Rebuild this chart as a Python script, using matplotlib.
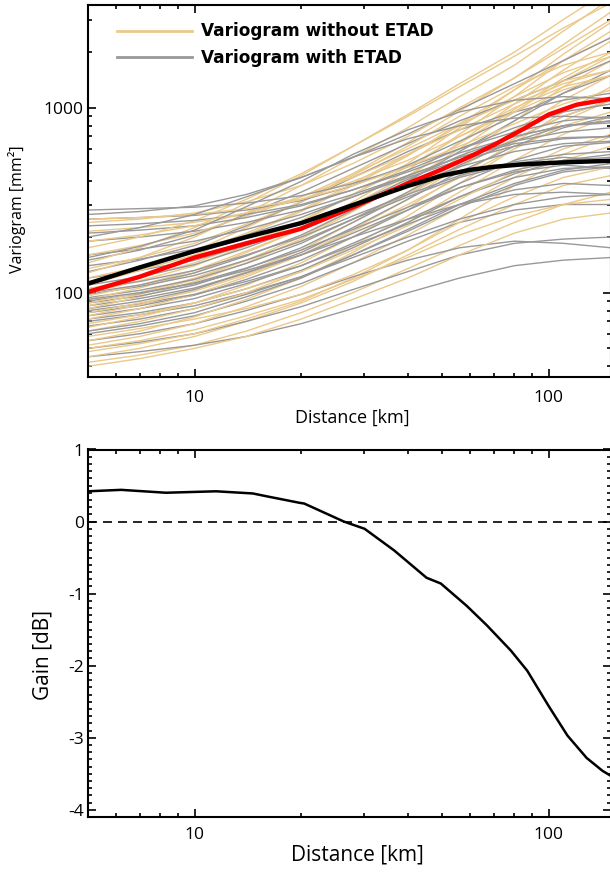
import matplotlib
matplotlib.use("Agg")
import matplotlib.pyplot as plt
from matplotlib.ticker import LogLocator, MultipleLocator, NullFormatter, FixedLocator, FixedFormatter

plt.rcParams["font.family"] = ["Open Sans", "DejaVu Sans"]
plt.rcParams["axes.unicode_minus"] = False

# distances (km) at which every variogram is sampled
dist_km = [5, 7, 10, 14, 20, 28, 40, 56, 80, 110, 150]

# individual variograms without the ETAD correction (mm^2)
vario_without = [
    [42, 46, 52, 62, 78, 100, 135, 180, 240, 300, 350],
    [45, 50, 58, 70, 88, 115, 160, 220, 300, 380, 430],
    [48, 53, 60, 72, 90, 120, 170, 250, 380, 520, 620],
    [52, 58, 68, 84, 108, 145, 205, 290, 420, 560, 700],
    [55, 62, 74, 92, 120, 165, 240, 350, 520, 720, 900],
    [58, 64, 72, 82, 98, 125, 170, 240, 330, 420, 480],
    [62, 70, 82, 100, 130, 180, 260, 390, 600, 850, 1100],
    [65, 74, 88, 110, 145, 200, 290, 430, 650, 950, 1300],
    [68, 76, 88, 105, 130, 170, 230, 320, 450, 600, 720],
    [72, 82, 98, 122, 160, 220, 320, 480, 750, 1100, 1500],
    [75, 86, 104, 130, 170, 240, 350, 540, 850, 1300, 1800],
    [78, 88, 102, 125, 160, 215, 300, 420, 600, 800, 950],
    [82, 95, 115, 145, 195, 275, 400, 600, 950, 1400, 1900],
    [85, 98, 118, 150, 200, 280, 420, 650, 1050, 1600, 2300],
    [88, 100, 120, 150, 190, 250, 340, 480, 680, 900, 1100],
    [92, 106, 128, 165, 220, 310, 460, 720, 1150, 1800, 2600],
    [96, 110, 132, 168, 220, 300, 430, 640, 980, 1450, 2000],
    [100, 116, 140, 180, 240, 340, 500, 780, 1250, 1950, 2900],
    [105, 120, 145, 185, 245, 340, 480, 700, 1000, 1300, 1500],
    [110, 132, 168, 225, 310, 440, 650, 960, 1450, 2200, 3300],
    [115, 132, 160, 205, 275, 380, 550, 820, 1250, 1800, 2400],
    [120, 138, 165, 210, 280, 390, 560, 800, 1150, 1550, 1900],
    [128, 155, 200, 270, 380, 540, 780, 1150, 1700, 2600, 3900],
    [135, 155, 185, 235, 310, 430, 620, 900, 1300, 1700, 2000],
    [145, 175, 225, 305, 430, 620, 920, 1350, 2000, 3000, 4400],
    [160, 180, 210, 260, 330, 440, 600, 820, 1100, 1400, 1600],
    [175, 200, 245, 320, 440, 620, 900, 1300, 1900, 2700, 3700],
    [190, 205, 230, 270, 330, 420, 560, 760, 1050, 1350, 1600],
    [215, 225, 240, 270, 320, 400, 520, 700, 950, 1250, 1500],
    [240, 250, 270, 310, 380, 500, 700, 1000, 1450, 2100, 3000],
    [250, 255, 265, 285, 320, 380, 480, 620, 820, 1050, 1250],
    [40, 44, 50, 58, 72, 92, 120, 160, 210, 250, 270],
    [50, 55, 63, 75, 92, 118, 155, 205, 260, 300, 320],
]

# individual variograms with the ETAD correction (mm^2)
vario_with = [
    [45, 48, 52, 58, 68, 82, 100, 120, 140, 150, 155],
    [50, 54, 60, 70, 84, 104, 130, 160, 185, 195, 200],
    [55, 60, 68, 80, 98, 122, 150, 175, 190, 185, 175],
    [60, 66, 75, 90, 112, 145, 190, 240, 280, 300, 300],
    [66, 72, 82, 98, 122, 160, 215, 290, 380, 450, 480],
    [70, 76, 85, 100, 122, 155, 200, 250, 300, 330, 340],
    [72, 78, 88, 105, 132, 175, 240, 330, 440, 520, 560],
    [75, 82, 93, 112, 140, 185, 250, 330, 420, 470, 480],
    [78, 85, 97, 118, 150, 200, 280, 390, 520, 620, 650],
    [80, 87, 98, 115, 140, 180, 235, 300, 360, 390, 380],
    [82, 90, 104, 128, 165, 225, 320, 450, 620, 780, 900],
    [85, 93, 106, 128, 160, 210, 280, 370, 460, 520, 540],
    [88, 96, 110, 135, 175, 240, 340, 480, 680, 900, 1100],
    [90, 99, 113, 136, 170, 220, 290, 370, 450, 490, 470],
    [94, 103, 118, 144, 185, 250, 350, 490, 660, 800, 850],
    [98, 108, 124, 150, 190, 250, 330, 420, 500, 540, 520],
    [100, 110, 128, 158, 205, 280, 400, 580, 850, 1200, 1600],
    [105, 115, 132, 160, 200, 260, 340, 430, 510, 560, 580],
    [110, 122, 142, 175, 225, 300, 410, 550, 700, 800, 830],
    [120, 132, 150, 180, 225, 290, 380, 480, 580, 640, 660],
    [130, 150, 180, 230, 310, 420, 580, 760, 950, 1100, 1200],
    [140, 152, 172, 205, 255, 330, 430, 540, 640, 690, 700],
    [150, 170, 205, 265, 350, 470, 640, 850, 1100, 1400, 1800],
    [160, 172, 190, 220, 265, 330, 420, 520, 620, 680, 700],
    [190, 200, 215, 240, 280, 340, 430, 540, 660, 740, 780],
    [210, 218, 230, 255, 295, 360, 460, 600, 780, 950, 1050],
    [230, 236, 246, 265, 300, 360, 450, 570, 700, 800, 850],
    [250, 255, 262, 280, 315, 380, 490, 660, 900, 1200, 1500],
    [265, 275, 295, 340, 420, 540, 720, 980, 1350, 1800, 2400],
    [280, 285, 290, 305, 335, 390, 480, 600, 740, 850, 900],
    [62, 68, 78, 95, 120, 160, 220, 300, 390, 460, 500],
    [92, 100, 112, 132, 160, 200, 250, 300, 340, 350, 340],
    [155, 178, 218, 292, 400, 560, 760, 950, 1100, 1150, 1120],
    [200, 225, 265, 330, 420, 540, 680, 800, 880, 900, 880],
]

# mean variograms, on their own distance grid
mean_km = [5, 7, 10, 14, 20, 28, 40, 50, 60, 70, 85, 100, 120, 150]
mean_without = [101, 122, 155, 185, 222, 290, 390, 465, 545, 630, 770, 920, 1040, 1120]
mean_with = [112, 137, 168, 200, 238, 298, 378, 430, 462, 480, 495, 503, 510, 517]

# gain of the correction
gain_km = [5, 6.2, 8.3, 11.5, 14.6, 16, 19.8, 20.4, 26.4, 30.2, 36.6, 45.2,
           49.6, 58.7, 66.9, 78.2, 87, 100, 113, 128, 142, 150]
gain_db = [0.42, 0.44, 0.40, 0.42, 0.39, 0.35, 0.26, 0.25, 0.0, -0.10, -0.40,
           -0.78, -0.86, -1.17, -1.44, -1.79, -2.07, -2.56, -2.97, -3.28,
           -3.46, -3.53]

TAN = "#ebc98a"
GREY = "#999999"

fig = plt.figure(figsize=(6.1, 8.73), dpi=100)
ax1 = fig.add_axes([88 / 610, 1 - 377 / 873, 523 / 610, 372 / 873])
ax2 = fig.add_axes([88 / 610, 1 - 817 / 873, 523 / 610, 367.5 / 873])

# ---- variograms
n = max(len(vario_without), len(vario_with))
for i in range(n):
    if i < len(vario_without):
        ax1.plot(dist_km, vario_without[i], color=TAN, lw=1.0,
                 label="Variogram without ETAD" if i == 0 else None)
    if i < len(vario_with):
        ax1.plot(dist_km, vario_with[i], color=GREY, lw=1.0,
                 label="Variogram with ETAD" if i == 0 else None)
ax1.plot(mean_km, mean_without, color="red", lw=3.2)
ax1.plot(mean_km, mean_with, color="black", lw=3.2)

ax1.set_xscale("log")
ax1.set_yscale("log")
ax1.set_xlim(5, 150)
ax1.set_ylim(35, 3600)
ax1.yaxis.set_major_locator(FixedLocator([100, 1000]))
ax1.yaxis.set_major_formatter(FixedFormatter(["100", "1000"]))
ax1.yaxis.set_minor_locator(LogLocator(subs=range(2, 10)))
ax1.yaxis.set_minor_formatter(NullFormatter())
ax1.set_ylabel("Variogram [mm²]", fontsize=11.5)
ax1.yaxis.set_label_coords(-0.119, 0.45)
ax1.set_xlabel("Distance [km]", fontsize=13)
ax1.xaxis.set_label_coords(0.506, -0.086)

leg = ax1.legend(loc="upper left", bbox_to_anchor=(0.055, 0.953), frameon=False,
                 prop=dict(family="DejaVu Sans", weight="bold", size=12.2),
                 handlelength=4.45, handletextpad=0.53, labelspacing=0.5,
                 borderpad=0, borderaxespad=0)
for h in leg.get_lines():
    h.set_linewidth(2.0)

# ---- gain
ax2.plot(gain_km, gain_db, color="black", lw=1.8)
ax2.axhline(0, color="black", lw=1.2, dashes=(5.4, 3.6))
ax2.set_xscale("log")
ax2.set_xlim(5, 150)
ax2.set_ylim(-4.1, 1.0)
ax2.yaxis.set_major_locator(MultipleLocator(1))
ax2.yaxis.set_minor_locator(MultipleLocator(0.1))
ax2.set_ylabel("Gain [dB]", fontsize=15)
ax2.yaxis.set_label_coords(-0.066, 0.44)
ax2.set_xlabel("Distance [km]", fontsize=15)
ax2.xaxis.set_label_coords(0.516, -0.076)

for ax in (ax1, ax2):
    ax.xaxis.set_major_locator(FixedLocator([10, 100]))
    ax.xaxis.set_major_formatter(FixedFormatter(["10", "100"]))
    ax.xaxis.set_minor_locator(LogLocator(subs=range(2, 10)))
    ax.xaxis.set_minor_formatter(NullFormatter())
    ax.tick_params(which="both", direction="in", top=True, right=True,
                   width=1.2, labelsize=12.5)
    ax.tick_params(which="major", length=6)
    ax.tick_params(which="minor", length=3)
    ax.tick_params(axis="x", pad=7)
    ax.tick_params(axis="y", pad=3)
    for s in ax.spines.values():
        s.set_linewidth(1.5)
ax1.tick_params(axis="x", pad=9)

fig.savefig("out.png", dpi=100)
